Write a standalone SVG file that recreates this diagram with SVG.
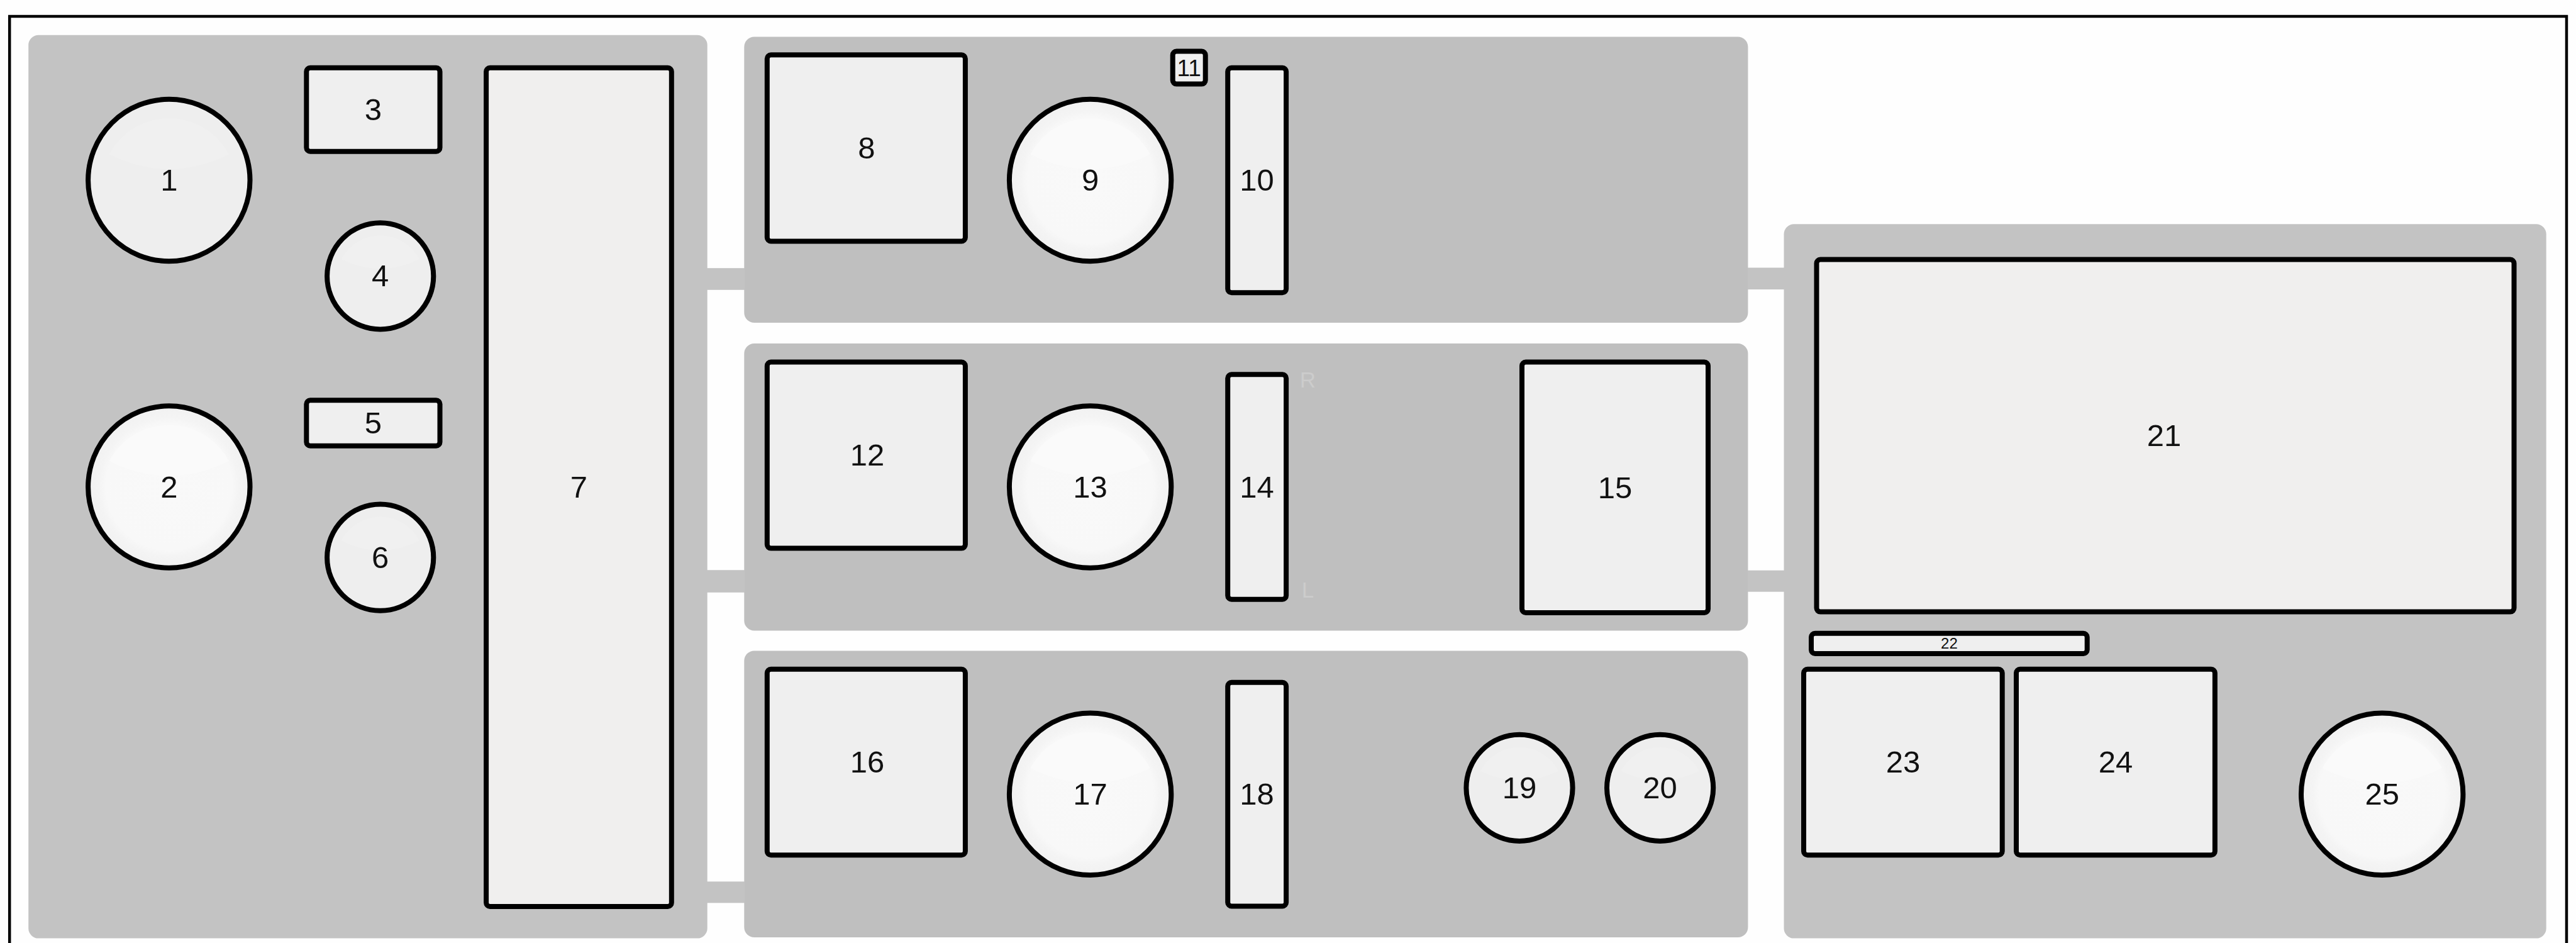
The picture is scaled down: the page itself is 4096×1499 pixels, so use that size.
<svg xmlns="http://www.w3.org/2000/svg" width="4096" height="1499" viewBox="0 0 4096 1499">
<style>
.panel{fill:#c3c3c3}
.panel2{fill:#bfbfbf}
.link{fill:#c3c3c3}
.box{fill:#efefef;stroke:#000;stroke-width:8}
.warm{fill:#f0efee;stroke:#000;stroke-width:8}
.dot{fill:#eeeeee;stroke:#000;stroke-width:8}
.bright{fill:url(#glow);stroke:#000;stroke-width:8}
.capd{fill:#f0f0f0}
.capb{fill:#fafafa}
text{font-family:"Liberation Sans",Arial,sans-serif;font-size:49px;fill:#111;text-anchor:middle}
.hint{font-size:35px;fill:#cccccc}
</style>
<defs>
<radialGradient id="glow" cx="0.5" cy="0.5" r="0.5"><stop offset="0" stop-color="#f9f9f9"/><stop offset="0.78" stop-color="#f8f8f8"/><stop offset="0.86" stop-color="#f4f4f4"/><stop offset="1" stop-color="#f1f1f1"/></radialGradient>
<path id="cap" d="M-.76 -.33A.86 .86 0 0 1 .76 -.33Q0 .05 -.76 -.33Z"/>
</defs>
<rect width="4096" height="1499" fill="#fefefe"/>
<path id="frame" d="M15.2 1499V26H4081V1499" fill="none" stroke="#000" stroke-width="4.5"/>
<g id="panels">
<rect class="panel" x="45.2" y="55.7" width="1079.5" height="1435.9" rx="16"/>
<rect class="panel2" x="1183.3" y="58.6" width="1596.1" height="454.4" rx="16"/>
<rect class="panel2" x="1183.3" y="546.1" width="1596.1" height="456.4" rx="16"/>
<rect class="panel2" x="1183.3" y="1034.4" width="1596.1" height="455.6" rx="16"/>
<rect class="panel" x="2836.5" y="356.3" width="1212.2" height="1135.3" rx="16"/>
</g>
<g id="connectors">
<rect class="link" x="1124" y="426.2" width="60" height="34.6"/>
<rect class="link" x="1124" y="906.2" width="60" height="35.6"/>
<rect class="link" x="1124" y="1401.3" width="60" height="34"/>
<rect class="link" x="2779" y="425.5" width="58" height="34.6"/>
<rect class="link" x="2779" y="906.7" width="58" height="34"/>
</g>
<g id="n1"><circle class="dot" cx="268.8" cy="286.5" r="128.7"/><use href="#cap" class="capd" transform="translate(268.8 286.5) scale(125)"/><text x="268.8" y="302.7">1</text></g>
<g id="n2"><circle class="bright" cx="268.8" cy="774" r="128.7"/><use href="#cap" class="capb" transform="translate(268.8 774) scale(125)"/><text x="268.8" y="790.7">2</text></g>
<g id="n3"><rect class="box" x="487.3" y="107.7" width="212.2" height="133.1" rx="6"/><text x="593.4" y="191">3</text></g>
<g id="n4"><circle class="dot" cx="604.7" cy="438.9" r="84.6"/><use href="#cap" class="capd" transform="translate(604.7 438.9) scale(82)"/><text x="604.7" y="455.1">4</text></g>
<g id="n5"><rect class="box" x="487.3" y="636.2" width="212.2" height="72.5" rx="6"/><text x="593.4" y="689">5</text></g>
<g id="n6"><circle class="dot" cx="604.7" cy="886.2" r="84.6"/><use href="#cap" class="capd" transform="translate(604.7 886.2) scale(82)"/><text x="604.7" y="902.7">6</text></g>
<g id="n7"><rect class="warm" x="773.1" y="107.7" width="294.7" height="1333.3" rx="6"/><text x="920.4" y="790.7">7</text></g>
<g id="n8"><rect class="box" x="1219.8" y="87.3" width="315.1" height="296.1" rx="6"/><text x="1378" y="251.5">8</text></g>
<g id="n9"><circle class="bright" cx="1733.6" cy="286.5" r="128.7"/><use href="#cap" class="capb" transform="translate(1733.6 286.5) scale(125)"/><text x="1733.6" y="302.7">9</text></g>
<g id="n10"><rect class="box" x="1952.2" y="107.7" width="92.9" height="357.5" rx="6"/><text x="1998.6" y="302.7">10</text></g>
<g id="n11"><rect class="box" x="1864.7" y="81.6" width="52" height="52" rx="6"/><text x="1890.7" y="120.5" style="font-size:37px">11</text></g>
<g id="n12"><rect class="box" x="1219.8" y="575.5" width="315.1" height="296.1" rx="6"/><text x="1379" y="739.8">12</text></g>
<g id="n13"><circle class="bright" cx="1733.6" cy="774" r="128.7"/><use href="#cap" class="capb" transform="translate(1733.6 774) scale(125)"/><text x="1733.6" y="790.7">13</text></g>
<g id="n14"><rect class="box" x="1952.2" y="595.3" width="92.9" height="357.5" rx="6"/><text x="1998.6" y="790.7">14</text></g>
<text class="hint" x="2079.4" y="616">R</text>
<text class="hint" x="2079.4" y="950.4">L</text>
<g id="n15"><rect class="box" x="2420" y="575.5" width="296" height="398.5" rx="6"/><text x="2568" y="791.7">15</text></g>
<g id="n16"><rect class="box" x="1219.8" y="1063.8" width="315.1" height="295.4" rx="6"/><text x="1379" y="1227.7">16</text></g>
<g id="n17"><circle class="bright" cx="1733.6" cy="1262.3" r="128.7"/><use href="#cap" class="capb" transform="translate(1733.6 1262.3) scale(125)"/><text x="1733.6" y="1279">17</text></g>
<g id="n18"><rect class="box" x="1952.2" y="1084.7" width="92.9" height="355.7" rx="6"/><text x="1998.6" y="1279">18</text></g>
<g id="n19"><circle class="dot" cx="2416" cy="1252.4" r="84.6"/><use href="#cap" class="capd" transform="translate(2416 1252.4) scale(82)"/><text x="2416" y="1268.6">19</text></g>
<g id="n20"><circle class="dot" cx="2639.6" cy="1252.4" r="84.6"/><use href="#cap" class="capd" transform="translate(2639.6 1252.4) scale(82)"/><text x="2639.6" y="1268.6">20</text></g>
<g id="n21"><rect class="warm" x="2888.5" y="412.5" width="1109" height="560.1" rx="6"/><text x="3441" y="708.7">21</text></g>
<g id="n22"><rect class="box" x="2880" y="1006.7" width="438.7" height="32.2" rx="6"/><text x="3099.4" y="1031.2" style="font-size:24px">22</text></g>
<g id="n23"><rect class="box" x="2868" y="1063.8" width="315.7" height="295.4" rx="6"/><text x="3025.9" y="1227.7">23</text></g>
<g id="n24"><rect class="box" x="3206" y="1063.8" width="315.9" height="295.4" rx="6"/><text x="3364" y="1227.7">24</text></g>
<g id="n25"><circle class="bright" cx="3787.7" cy="1262.3" r="128.7"/><use href="#cap" class="capb" transform="translate(3787.7 1262.3) scale(125)"/><text x="3787.7" y="1279">25</text></g>
</svg>
